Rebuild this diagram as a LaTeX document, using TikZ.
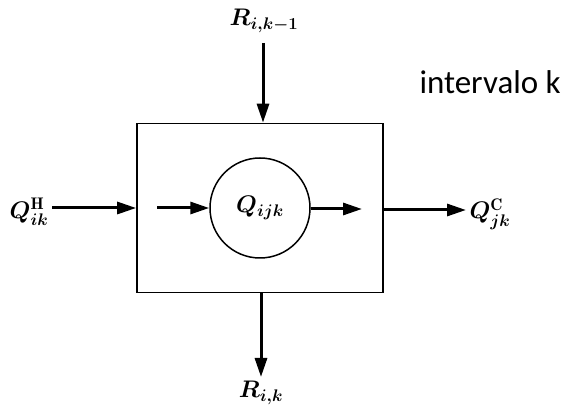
\documentclass[tikz,border=0pt]{standalone}
\usepackage{fix-cm}
\usepackage{fontspec}
\newfontfamily\labfont{Carlito}
\usetikzlibrary{arrows.meta}
\begin{document}
\begin{tikzpicture}[x=1pt,y=-1pt,
  flow/.style={line width=3pt,-{Triangle[length=19pt,width=12pt]}},
  lab/.style={font=\fontsize{24}{28}\selectfont\boldmath},
  boxline/.style={line width=1.7pt}]
\useasboundingbox (0,0) rectangle (566,414);
\node[draw,boxline,minimum width=246pt,minimum height=169pt,inner sep=0pt] (box) at (260,208) {};
\node[draw,circle,line width=1.5pt,minimum size=100pt,inner sep=0pt,lab] (q) at (260,208) {$Q_{ijk}$};
\node[lab] (rtop) at (264,21) {$R_{i,k-1}$};
\node[lab] (rbot) at (261,393) {$R_{i,k}$};
\node[lab] (qh) at (29,212) {$Q^{\mathrm{H}}_{ik}$};
\node[lab] (qc) at (490,214) {$Q^{\mathrm{C}}_{jk}$};
\node[font=\labfont\fontsize{33}{38}\selectfont,anchor=west] (int) at (416,82) {intervalo k};
\coordinate (tin) at (263,43);
\coordinate (bout) at (261,377);
\coordinate (lin) at (52,208);
\coordinate (ila) at (157,208);
\coordinate (irb) at (362,209);
\coordinate (rout) at (466,210);
\draw[flow] (tin) -- (tin |- box.north);
\draw[flow] (box.south -| bout) -- (bout);
\draw[flow] (lin) -- (box.west |- lin);
\draw[flow] (ila) -- (q.west |- ila);
\draw[flow] (q.east |- irb) -- (irb);
\draw[flow] (box.east |- rout) -- (rout);
\end{tikzpicture}
\end{document}
